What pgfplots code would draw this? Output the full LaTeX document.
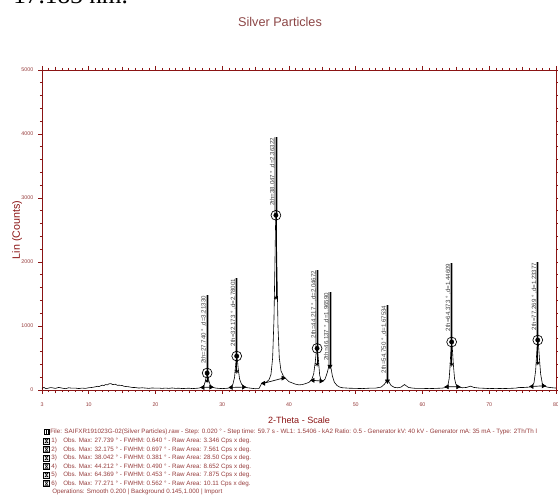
\documentclass[border=0pt]{standalone}
\usepackage{fontspec}
\setmainfont{Liberation Sans}
\newfontfamily\serifdoc{Liberation Serif}
\usepackage{pgfplots}
\pgfplotsset{compat=1.18}
\definecolor{axred}{RGB}{139,20,20}
\definecolor{txtred}{RGB}{150,60,60}
\definecolor{titlered}{RGB}{140,70,70}
\newcommand{\lf}{\fontsize{4.7}{5}\selectfont}
\begin{document}
\begin{tikzpicture}[x=0.75pt,y=0.75pt]
\useasboundingbox (0,0) rectangle (558,502);
\node[anchor=base west, font=\serifdoc\fontsize{19}{20}\selectfont, inner sep=0] at (13,498.5) {17.183 nm.};
\node[font=\fontsize{9.5}{10}\selectfont, text=titlered] at (280,480) {Silver Particles};
\node[font=\fontsize{6.8}{7}\selectfont, text=axred] at (299,82) {2-Theta - Scale};
\node[rotate=90, font=\fontsize{8}{8}\selectfont, text=axred] at (17,272) {Lin (Counts)};
\begin{axis}[at={(31.5pt,84pt)}, anchor=south west, scale only axis,
  width=385.5pt, height=240pt,
  xmin=3, xmax=80, ymin=0, ymax=5000,
  axis line style={axred, line width=0.7pt},
  every tick/.style={axred, line width=0.45pt},
  tick align=outside,
  major tick length=3pt, minor tick length=1.6pt,
  xtick={3,10,20,30,40,50,60,70,80},
  minor xtick={4,...,79},
  extra x ticks={5,15,25,35,45,55,65,75},
  extra x tick labels={},
  extra x tick style={major tick length=2.6pt},
  ytick={0,1000,2000,3000,4000,5000},
  minor y tick num=4,
  tick label style={font=\fontsize{4}{4}\selectfont, text=txtred},
  xticklabel style={yshift=-3pt},
  /pgf/number format/assume math mode=true,
  /pgf/number format/1000 sep={},
  unbounded coords=jump,
  clip=false,
]
% spectrum
\addplot[black, line width=0.45pt, no marks] coordinates {
(3.0,25)(3.3,40)(3.6,20)(4.0,30)(4.3,38)(4.5,35)(5.0,25)(5.5,40)(6.0,30)(6.5,20)(7.0,35)(7.5,28)(8.0,30)(8.5,22)(9.0,30)(9.5,25)(10.0,35)(10.5,40)(11.0,50)(11.3,58)(11.5,52)(12.0,75)(12.3,70)(12.5,85)(12.8,80)(13.0,95)(13.3,100)(13.6,85)(14.0,90)(14.3,72)(14.5,75)(15.0,70)(15.3,58)(15.5,55)(16.0,50)(16.5,40)(17.0,38)(17.5,30)(18.0,35)(18.5,30)(19,25)(19.5,32)(20,28)(20.5,30)(21,25)(21.5,30)(22,25)(22.5,32)(23,25)(23.5,28)(24,22)(24.5,25)(25,28)(25.5,22)(26,25)(26.5,30)
(27.0,45)(27.3,80)(27.5,150)(27.65,240)(27.74,270)(27.85,230)(28.0,140)(28.2,80)(28.5,45)(29,30)(29.5,25)(30,22)(30.5,25)(31,30)
(31.3,45)(31.6,90)(31.85,200)(32.0,380)(32.1,500)(32.17,530)(32.25,490)(32.4,330)(32.6,170)(32.9,90)(33.3,50)(33.8,35)(34.5,25)(35.0,20)(35.5,22)
(35.7,60)(35.9,100)(36.2,110)(36.6,120)(37.0,160)(37.3,240)(37.55,500)(37.75,1100)(37.9,2000)(37.98,2550)(38.04,2740)(38.1,2550)(38.2,1900)(38.35,1000)(38.55,500)(38.8,300)(39.2,210)(39.6,170)(40.0,130)(40.5,110)(41.0,90)(41.5,80)(42.0,85)(42.5,100)(43.0,120)
(43.4,160)(43.7,250)(43.95,450)(44.1,610)(44.21,650)(44.3,610)(44.45,420)(44.6,230)(44.8,150)(45.1,140)(45.4,170)(45.7,260)(45.95,360)(46.14,390)(46.3,340)(46.5,220)(46.8,120)(47.2,70)(47.6,45)(48,35)(49,28)(50,25)(51,22)(52,28)(53,30)
(53.8,45)(54.3,90)(54.6,140)(54.75,150)(54.95,130)(55.3,70)(55.8,40)(56.3,35)(56.8,45)(57.1,70)(57.3,85)(57.5,70)(57.9,40)(58.5,30)(59,25)(60,25)(61,22)(62,25)(63,30)
(63.5,40)(63.8,70)(64.0,180)(64.15,400)(64.28,680)(64.37,760)(64.45,690)(64.6,430)(64.8,180)(65.0,90)(65.4,45)(66,35)(66.6,40)(67.2,60)(67.7,40)(68.5,30)(69,28)(70,22)(71,25)(72,22)(73,25)(74,30)(74.5,40)(75,38)(75.5,42)(76,45)
(76.4,60)(76.7,110)(76.95,300)(77.1,560)(77.2,740)(77.27,790)(77.35,740)(77.5,520)(77.7,250)(77.95,100)(78.3,60)(78.7,45)(79,40)(79.5,35)(80,30)
};
% label bars
\addplot[gray!65, line width=2.4pt, no marks] coordinates {
(27.74,270)(27.74,1480)(27.74,nan)
(32.17,530)(32.17,1750)(32.17,nan)
(38.04,2740)(38.04,3950)(38.04,nan)
(44.21,650)(44.21,1875)(44.21,nan)
(46.14,390)(46.14,1530)(46.14,nan)
(54.75,150)(54.75,1330)(54.75,nan)
(64.37,760)(64.37,1985)(64.37,nan)
(77.27,790)(77.27,2000)
};
\addplot[black, line width=0.6pt, no marks] coordinates {
(27.74,140)(27.74,1480)(27.74,nan)
(32.17,290)(32.17,1750)(32.17,nan)
(38.04,1440)(38.04,3950)(38.04,nan)
(44.21,400)(44.21,1875)(44.21,nan)
(46.14,360)(46.14,1530)(46.14,nan)
(54.75,140)(54.75,1330)(54.75,nan)
(64.37,400)(64.37,1985)(64.37,nan)
(77.27,420)(77.27,2000)
};
% background lines
\addplot[black, line width=0.5pt, no marks] coordinates {
(27.1,40)(28.3,45)(28.5,nan)
(31.35,40)(33.2,45)(33.5,nan)
(36.2,105)(39.1,185)(39.5,nan)
(43.6,150)(44.8,140)(45,nan)
(63.7,50)(65.3,50)(65.5,nan)
(76.4,55)(78.1,65)
};
\addplot[only marks, mark=triangle*, mark size=1.7pt, mark options={rotate=90, black}] coordinates {
(27.1,40)(31.35,40)(36.2,105)(43.6,150)(63.7,50)(76.4,55)};
\addplot[only marks, mark=triangle*, mark size=1.7pt, mark options={rotate=-90, black}] coordinates {
(28.3,45)(33.2,45)(39.1,185)(44.8,140)(65.3,50)(78.1,65)};
\addplot[only marks, mark=triangle*, mark size=1.8pt, mark options={rotate=180, black}] coordinates {
(46.14,370)(54.75,140)};
% half-height stars
\addplot[only marks, mark=asterisk, mark size=1.6pt, mark options={black, line width=0.5pt}] coordinates {
(27.74,140)(32.17,290)(38.04,1440)(44.21,400)(64.37,400)(77.27,420)};
% peak tops
\addplot[only marks, mark=o, mark size=3.7pt, mark options={black, line width=0.5pt}] coordinates {
(27.74,265)(32.17,530)(38.04,2730)(44.21,650)(64.37,750)(77.27,780)};
\addplot[only marks, mark=*, mark size=1.6pt, mark options={black}] coordinates {
(27.74,265)(32.17,530)(38.04,2730)(44.21,650)(64.37,750)(77.27,780)};
% labels
\begin{scope}[every node/.style={rotate=90, anchor=south east, inner sep=0.4pt, font=\fontsize{4.6}{4.8}\selectfont, text=black!75}]
\node at (axis cs:27.74,1480) {2th=27.740 ° ,d=3.21330};
\node at (axis cs:32.17,1750) {2th=32.173 ° ,d=2.78001};
\node at (axis cs:38.04,3950) {2th=38.047 ° ,d=2.36322};
\node at (axis cs:44.21,1875) {2th=44.217 ° ,d=2.04672};
\node at (axis cs:46.14,1530) {2th=46.137 ° ,d=1.96590};
\node at (axis cs:54.75,1330) {2th=54.750 ° ,d=1.67534};
\node at (axis cs:64.37,1985) {2th=64.373 ° ,d=1.44609};
\node at (axis cs:77.27,2000) {2th=77.269 ° ,d=1.23377};
\end{scope}
\end{axis}
% info block
\begin{scope}[every node/.style={anchor=west, inner sep=0, font=\lf, text=txtred}]
\node at (50,70) {File: SAIFXR191023G-02(Silver Particles).raw - Step: 0.020 ° - Step time: 59.7 s - WL1: 1.5406 - kA2 Ratio: 0.5 - Generator kV: 40 kV - Generator mA: 35 mA - Type: 2Th/Th l};
\node at (51,61) {1)}; \node at (63,61) {Obs. Max: 27.739 ° - FWHM: 0.640 ° - Raw Area: 3.346 Cps x deg.};
\node at (51,52.5) {2)}; \node at (63,52.5) {Obs. Max: 32.175 ° - FWHM: 0.697 ° - Raw Area: 7.561 Cps x deg.};
\node at (51,44) {3)}; \node at (63,44) {Obs. Max: 38.042 ° - FWHM: 0.381 ° - Raw Area: 28.50 Cps x deg.};
\node at (51,35.5) {4)}; \node at (63,35.5) {Obs. Max: 44.212 ° - FWHM: 0.490 ° - Raw Area: 8.652 Cps x deg.};
\node at (51,27) {5)}; \node at (63,27) {Obs. Max: 64.369 ° - FWHM: 0.453 ° - Raw Area: 7.875 Cps x deg.};
\node at (51,18.5) {6)}; \node at (63,18.5) {Obs. Max: 77.271 ° - FWHM: 0.562 ° - Raw Area: 10.11 Cps x deg.};
\node at (52,10) {Operations: Smooth 0.200 | Background 0.145,1.000 | Import};
\end{scope}
\foreach \yy in {61,52.5,44,35.5,27,18.5} {
  \draw[black, line width=0.4pt, fill=white] (43.5,\yy-2.8) rectangle (49.5,\yy+2.8);
  \draw[black, line width=0.4pt] (45,\yy+1.8) -- (48,\yy+1.8) -- (45,\yy-1.8) -- (48,\yy-1.8) -- cycle;
}
\fill[black] (43.5,70-2.8) rectangle (49.5,70+2.8);
\fill[white] (45,70-1.6) rectangle (46.3,70+1.6);
\fill[white] (47,70-1.6) rectangle (48.2,70+1.6);
\end{tikzpicture}
\end{document}
